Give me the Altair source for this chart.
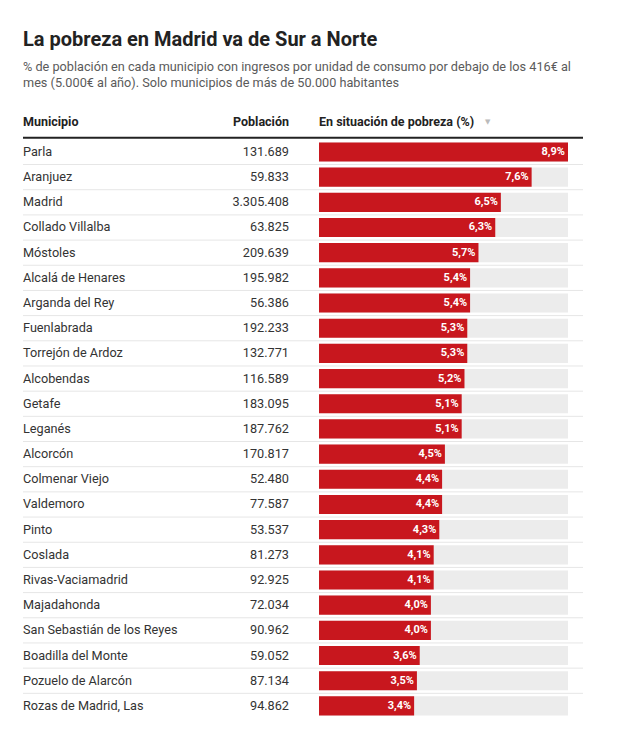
import altair as alt
import pandas as pd

municipios = ["Parla", "Aranjuez", "Madrid", "Collado Villalba", "Móstoles",
              "Alcalá de Henares", "Arganda del Rey", "Fuenlabrada", "Torrejón de Ardoz",
              "Alcobendas", "Getafe", "Leganés", "Alcorcón", "Colmenar Viejo", "Valdemoro",
              "Pinto", "Coslada", "Rivas-Vaciamadrid", "Majadahonda",
              "San Sebastián de los Reyes", "Boadilla del Monte", "Pozuelo de Alarcón",
              "Rozas de Madrid, Las"]
poblacion = [131689, 59833, 3305408, 63825, 209639, 195982, 56386, 192233, 132771,
             116589, 183095, 187762, 170817, 52480, 77587, 53537, 81273, 92925, 72034,
             90962, 59052, 87134, 94862]
pobreza = [8.9, 7.6, 6.5, 6.3, 5.7, 5.4, 5.4, 5.3, 5.3, 5.2, 5.1, 5.1, 4.5, 4.4, 4.4,
           4.3, 4.1, 4.1, 4.0, 4.0, 3.6, 3.5, 3.4]
cabeceras = ["Municipio", "Población", "En situación de pobreza (%)"]

titulo = "La pobreza en Madrid va de Sur a Norte"
subtitulo = ["% de población en cada municipio con ingresos por unidad de consumo por debajo de los 416€ al",
             "mes (5.000€ al año). Solo municipios de más de 50.000 habitantes"]

n = len(municipios)
df = pd.DataFrame({"municipio": municipios, "poblacion": poblacion, "pobreza": pobreza})
df["fila"] = list(range(n))
df["pob_txt"] = [f"{v:,}".replace(",", ".") for v in poblacion]
df["pct_txt"] = [f"{v:.1f}".replace(".", ",") + "%" for v in pobreza]
df["y0"] = df["fila"] - 0.38
df["y1"] = df["fila"] + 0.38
df["cero"] = 0.0
df["maximo"] = max(pobreza)
df["sep"] = df["fila"] + 0.5

FONT = "Roboto"
W = 560
ROW = 25.18
H = 25 * ROW

xs = alt.Scale(domain=[0, max(pobreza)], range=[296, 545], nice=False, zero=False)
ys = alt.Scale(domain=[-2.5, n - 0.5], reverse=True, nice=False, zero=False)

base = alt.Chart(df)

sep = base.transform_filter(alt.datum.fila < n - 1).mark_rule(color="#e6e6e6", strokeWidth=1).encode(
    x=alt.value(0), x2=alt.value(W),
    y=alt.Y("sep:Q", scale=ys, axis=None))

track = base.mark_bar(color="#ececec").encode(
    x=alt.X("cero:Q", scale=xs, axis=None), x2="maximo:Q",
    y=alt.Y("y0:Q", scale=ys, axis=None), y2="y1:Q")

bars = base.mark_bar(color="#c8171e").encode(
    x=alt.X("cero:Q", scale=xs, axis=None), x2="pobreza:Q",
    y=alt.Y("y0:Q", scale=ys, axis=None), y2="y1:Q")

pct = base.mark_text(align="right", baseline="middle", dx=-3, font=FONT, fontSize=11,
                     fontWeight="bold", color="white").encode(
    x=alt.X("pobreza:Q", scale=xs, axis=None),
    y=alt.Y("fila:Q", scale=ys, axis=None), text="pct_txt:N")

muni = base.mark_text(align="left", baseline="middle", font=FONT, fontSize=12.7, color="#333333").encode(
    x=alt.value(0), y=alt.Y("fila:Q", scale=ys, axis=None), text="municipio:N")

pob = base.mark_text(align="right", baseline="middle", font=FONT, fontSize=12.7, color="#333333").encode(
    x=alt.value(266), y=alt.Y("fila:Q", scale=ys, axis=None), text="pob_txt:N")

hdr_df = pd.DataFrame({"t": cabeceras, "fila": [-1.2] * 3, "xp": [0, 266, 296],
                       "al": ["left", "right", "left"]})
hdr = alt.Chart(hdr_df)
h1 = hdr.transform_filter(alt.datum.al == "left").mark_text(
    align="left", baseline="middle", font=FONT, fontSize=12.5, fontWeight="bold", color="#222222").encode(
    x=alt.X("xp:Q", scale=None), y=alt.Y("fila:Q", scale=ys, axis=None), text="t:N")
h2 = hdr.transform_filter(alt.datum.al == "right").mark_text(
    align="right", baseline="middle", font=FONT, fontSize=12.5, fontWeight="bold", color="#222222").encode(
    x=alt.X("xp:Q", scale=None), y=alt.Y("fila:Q", scale=ys, axis=None), text="t:N")
tri = alt.Chart(pd.DataFrame({"t": ["▼"], "fila": [-1.2]})).mark_text(
    align="left", baseline="middle", font="DejaVu Sans", fontSize=7, color="#bbbbbb").encode(
    x=alt.value(462), y=alt.Y("fila:Q", scale=ys, axis=None), text="t:N")

thick = alt.Chart(pd.DataFrame({"fila": [-0.56]})).mark_rule(color="#222222", strokeWidth=2).encode(
    x=alt.value(0), x2=alt.value(W), y=alt.Y("fila:Q", scale=ys, axis=None))

chart = alt.layer(sep, track, bars, pct, muni, pob, h1, h2, tri, thick).properties(
    width=W, height=H,
    autosize=alt.AutoSizeParams(type="none"),
    padding={"left": 15, "top": 81, "right": 26, "bottom": 8},
    title=alt.TitleParams(text=titulo, subtitle=subtitulo, anchor="start", frame="group",
                          font=FONT, fontSize=20, fontWeight="bold", color="#222222",
                          subtitleFont=FONT, subtitleFontSize=12.7, subtitleColor="#5a5a5a",
                          subtitleLineHeight=16, subtitlePadding=11, offset=-1),
).configure(background="white").configure_view(strokeWidth=0, strokeOpacity=0)

chart.save("out.html", embed_options={"renderer": "svg", "actions": False})
